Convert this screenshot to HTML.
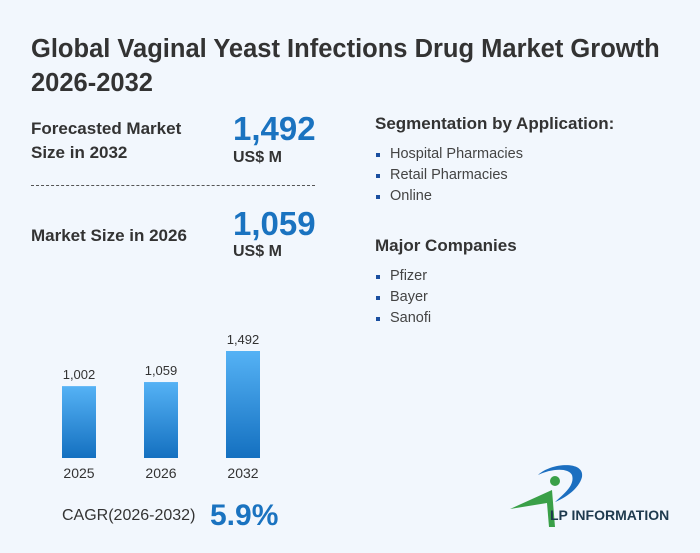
<!DOCTYPE html>
<html><head><meta charset="utf-8">
<style>
body{margin:0;width:700px;height:553px;overflow:hidden;background:#f2f7fd;font-family:"Liberation Sans","DejaVu Sans",sans-serif;color:#333;position:relative}
.a{position:absolute}
h1{position:absolute;left:31px;top:32px;margin:0;font-size:25.5px;line-height:34px;font-weight:bold;color:#333;width:660px}
.lbl{font-weight:bold;font-size:17px;line-height:24px;color:#333}
.big{font-weight:bold;font-size:33px;color:#1a73c0;line-height:34px}
.unit{font-weight:bold;font-size:16px;color:#333}
.sec{font-weight:bold;font-size:17px;color:#333}
ul{margin:0;padding:0;list-style:none}
li{font-size:14.5px;line-height:21px;color:#444;padding-left:15px;position:relative}
li:before{content:"";position:absolute;left:1px;top:9px;width:4px;height:4px;background:#1a4fa0}
</style></head><body>
<h1>Global Vaginal Yeast Infections Drug Market Growth 2026-2032</h1>
<div class="a lbl" style="left:31px;top:117px">Forecasted Market<br>Size in 2032</div>
<div class="a big" style="left:233px;top:112px">1,492</div>
<div class="a unit" style="left:233px;top:149px">US$ M</div>
<div class="a" style="left:31px;top:185px;width:284px;border-top:1px dashed #555"></div>
<div class="a lbl" style="left:31px;top:224px">Market Size in 2026</div>
<div class="a big" style="left:233px;top:207px">1,059</div>
<div class="a unit" style="left:233px;top:243px">US$ M</div>
<div class="a sec" style="left:375px;top:114px">Segmentation by Application:</div>
<ul class="a" style="left:375px;top:144px">
<li>Hospital Pharmacies</li>
<li>Retail Pharmacies</li>
<li>Online</li></ul>
<div class="a sec" style="left:375px;top:236px">Major Companies</div>
<ul class="a" style="left:375px;top:266px">
<li>Pfizer</li>
<li>Bayer</li>
<li>Sanofi</li></ul>
<svg class="a" style="left:0;top:320px" width="350" height="170">
<defs><linearGradient id="g" x1="0" y1="0" x2="0" y2="1"><stop offset="0" stop-color="#55b2f5"/><stop offset="1" stop-color="#1470c0"/></linearGradient></defs>
<g id="bars"></g></svg>
<div class="a" style="left:62px;top:507px;font-size:16px;color:#333">CAGR(2026-2032)</div>
<div class="a" style="left:210px;top:499px;font-size:30px;font-weight:bold;color:#1a73c0">5.9%</div>
<svg class="a" style="left:505px;top:460px" width="190" height="75">
<path d="M33 15 C45 3 80 0 77 17 C74 29 60 38 50 42 C60 33 70 25 67 15 C63 7 45 9 33 15Z" fill="#1c6fc0"/>
<circle cx="50" cy="21" r="5" fill="#3aa048"/>
<path d="M5 49 L47 30 L50 67 L44 67 L42 43 Z" fill="#3aa048"/>
<text x="45" y="60" font-family="Liberation Sans, sans-serif" font-size="14" font-weight="bold" fill="#1e3a4e">LP INFORMATION</text>
</svg>
<script>
const categories=["2025","2026","2032"];
const values=[1002,1059,1492];
const valueLabels=["1,002","1,059","1,492"];
const g=document.getElementById('bars');
const ns="http://www.w3.org/2000/svg";
const base=138, scale=107/1492;
const x=i=>62+i*82;
const y=v=>base-v*scale;
values.forEach((v,i)=>{
 const r=document.createElementNS(ns,'rect');
 r.setAttribute('x',x(i));r.setAttribute('y',y(v));r.setAttribute('width',34);r.setAttribute('height',base-y(v));r.setAttribute('fill','url(#g)');
 
 
 g.appendChild(r);
 const t=document.createElementNS(ns,'text');
 t.setAttribute('x',x(i)+17);t.setAttribute('y',y(v)-7);t.setAttribute('text-anchor','middle');t.setAttribute('font-size','13');t.setAttribute('fill','#333');
 t.textContent=valueLabels[i];
 
 
 g.appendChild(t);
 const c=document.createElementNS(ns,'text');
 c.setAttribute('x',x(i)+17);c.setAttribute('y',base+20);c.setAttribute('text-anchor','middle');c.setAttribute('font-size','14');c.setAttribute('fill','#333');
 c.textContent=categories[i];
 
 
 g.appendChild(c);
});
</script>
</body></html>
